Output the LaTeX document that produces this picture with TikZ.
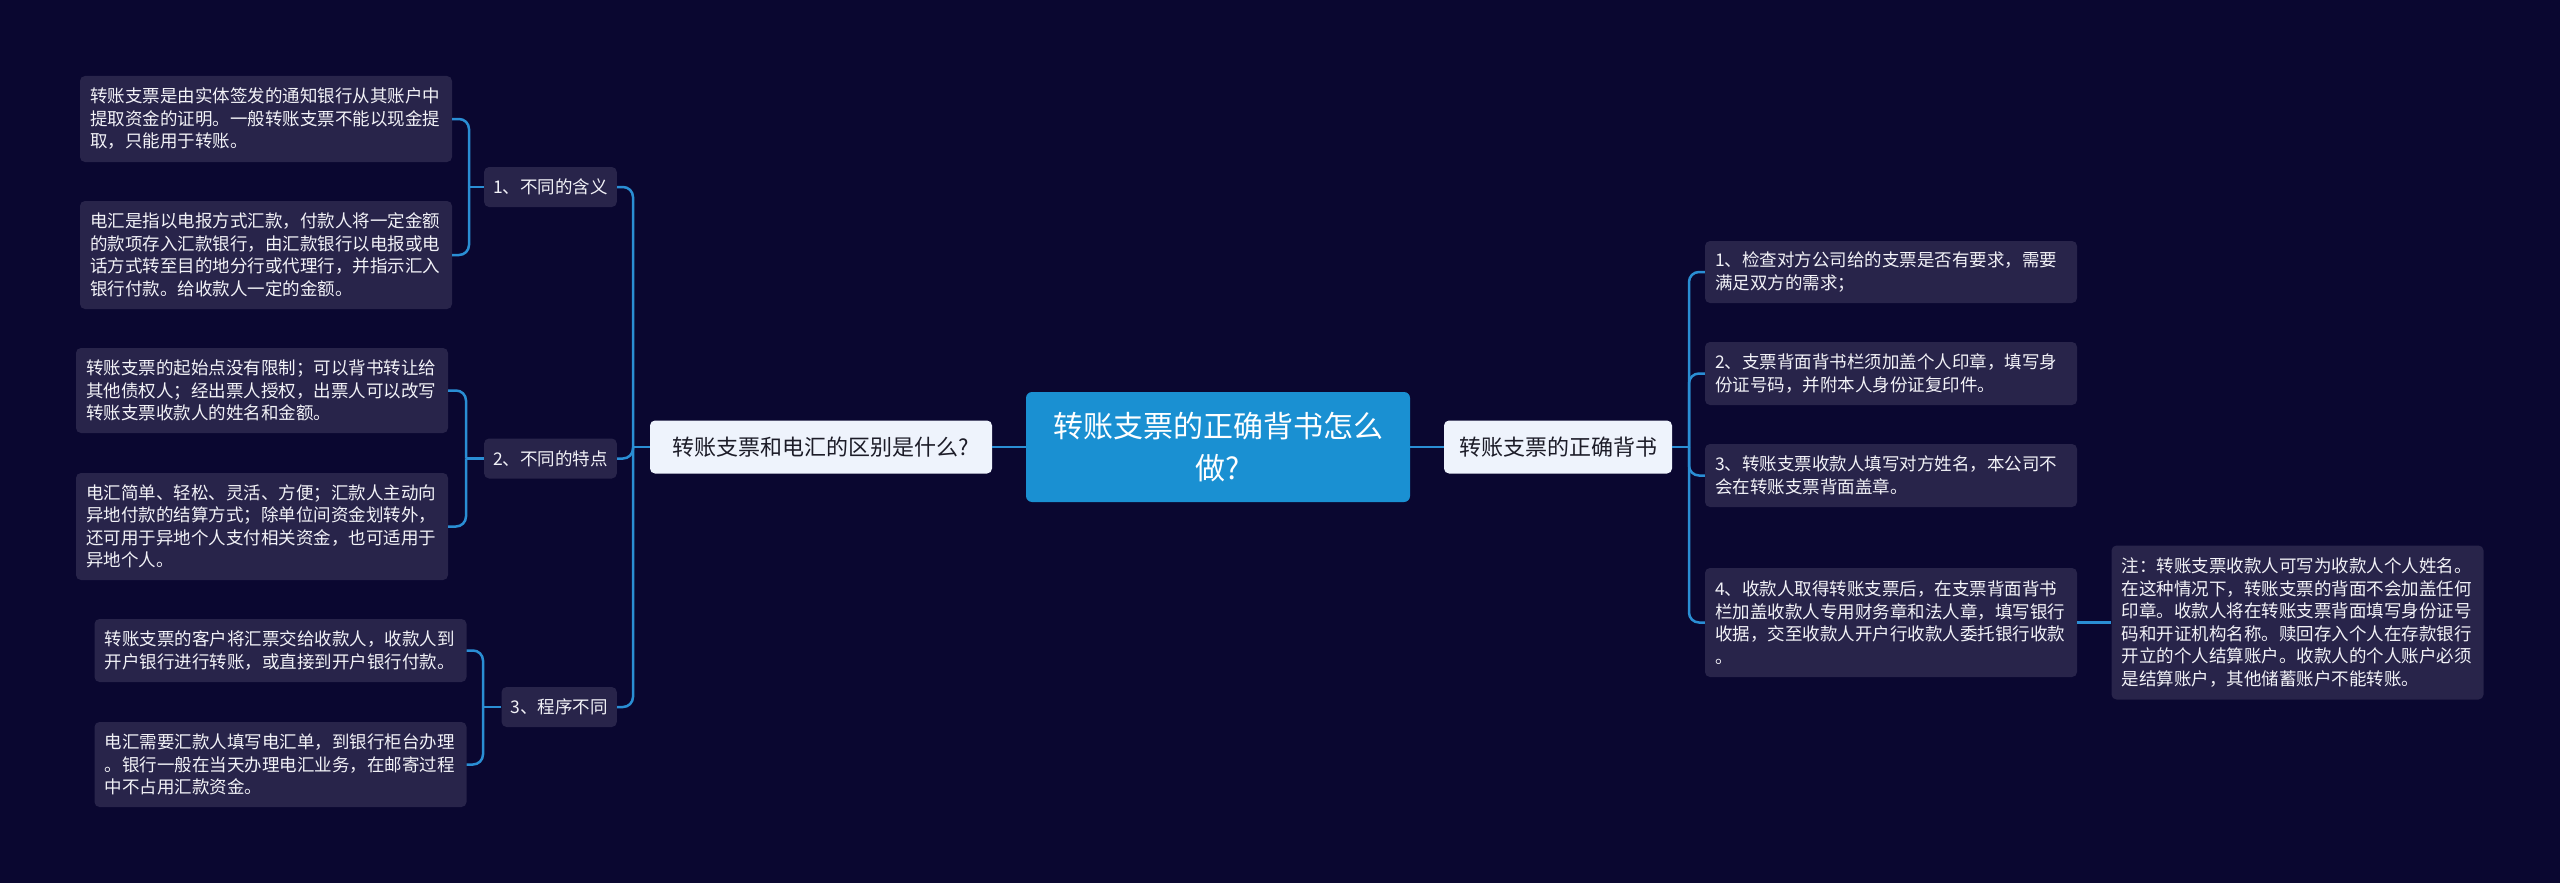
\documentclass[tikz,border=0pt]{standalone}
\usepackage{fontspec}
\newfontfamily\cjk{Noto Sans CJK SC}
\definecolor{bg}{HTML}{0A0730}
\definecolor{leaffill}{HTML}{28244A}
\definecolor{linkblue}{HTML}{2A8ED4}
\definecolor{corefill}{HTML}{1A90D2}
\definecolor{mainfill}{HTML}{EEF3FC}
\definecolor{maintext}{HTML}{1C1C28}
\definecolor{leaftext}{HTML}{F2F2F7}
\begin{document}
\begin{tikzpicture}[x=1pt,y=-1pt,
  leafbox/.style={rounded corners=5pt, fill=leaffill, text=leaftext, align=left,
    text width=352pt, inner xsep=10pt, inner ysep=0pt,
    font={\cjk\fontsize{17.5pt}{22.5pt}\selectfont}},
  midbox/.style={rounded corners=5pt, fill=leaffill, text=leaftext, inner xsep=9pt,
    inner ysep=0pt, minimum height=40pt, anchor=east,
    font={\cjk\fontsize{17.5pt}{20pt}\selectfont}},
  mainbox/.style={rounded corners=5pt, fill=mainfill, text=maintext, inner sep=0pt,
    minimum height=53pt, font={\cjk\fontsize{22pt}{26pt}\selectfont}},
  corebox/.style={rounded corners=6pt, fill=corefill, text=white, inner sep=0pt,
    minimum width=384pt, minimum height=110pt, align=center,
    font={\cjk\fontsize{30pt}{42pt}\selectfont}},
  conn/.style={draw=linkblue, line width=2.5pt},
  connr/.style={conn, rounded corners=10pt}
]
\fill[bg] (0,0) rectangle (2560,883);

% central
\node[corebox] (core) at (1218,447) {转账支票的正确背书怎么\\做?};
\node[mainbox, minimum width=342pt] (lm) at (821,447) {转账支票和电汇的区别是什么?};
\node[mainbox, minimum width=228pt] (rm) at (1558,447) {转账支票的正确背书};

% left level 2
\node[midbox] (a1) at (617,187) {1、不同的含义};
\node[midbox] (a2) at (617,458.5) {2、不同的特点};
\node[midbox] (a3) at (617,707) {3、程序不同};

% left leaves
\node[leafbox, minimum height=86pt] (l1a) at (266,119) {转账支票是由实体签发的通知银行从其账户中\\提取资金的证明。一般转账支票不能以现金提\\取，只能用于转账。};
\node[leafbox, minimum height=108pt] (l1b) at (266,255) {电汇是指以电报方式汇款，付款人将一定金额\\的款项存入汇款银行，由汇款银行以电报或电\\话方式转至目的地分行或代理行，并指示汇入\\银行付款。给收款人一定的金额。};
\node[leafbox, minimum height=85pt] (l2a) at (262,390.5) {转账支票的起始点没有限制；可以背书转让给\\其他债权人；经出票人授权，出票人可以改写\\转账支票收款人的姓名和金额。};
\node[leafbox, minimum height=107pt] (l2b) at (262,526.5) {电汇简单、轻松、灵活、方便；汇款人主动向\\异地付款的结算方式；除单位间资金划转外，\\还可用于异地个人支付相关资金，也可适用于\\异地个人。};
\node[leafbox, minimum height=63pt] (l3a) at (280.5,650.5) {转账支票的客户将汇票交给收款人，收款人到\\开户银行进行转账，或直接到开户银行付款。};
\node[leafbox, minimum height=85pt] (l3b) at (280.5,764.5) {电汇需要汇款人填写电汇单，到银行柜台办理\\。银行一般在当天办理电汇业务，在邮寄过程\\中不占用汇款资金。};

% right leaves
\node[leafbox, minimum height=62pt] (r1) at (1891,272) {1、检查对方公司给的支票是否有要求，需要\\满足双方的需求；};
\node[leafbox, minimum height=63pt] (r2) at (1891,373.5) {2、支票背面背书栏须加盖个人印章，填写身\\份证号码，并附本人身份证复印件。};
\node[leafbox, minimum height=63pt] (r3) at (1891,475.5) {3、转账支票收款人填写对方姓名，本公司不\\会在转账支票背面盖章。};
\node[leafbox, minimum height=109pt] (r4) at (1891,622.5) {4、收款人取得转账支票后，在支票背面背书\\栏加盖收款人专用财务章和法人章，填写银行\\收据，交至收款人开户行收款人委托银行收款\\。};
\node[leafbox, minimum height=154pt] (note) at (2297.5,622.5) {注：转账支票收款人可写为收款人个人姓名。\\在这种情况下，转账支票的背面不会加盖任何\\印章。收款人将在转账支票背面填写身份证号\\码和开证机构名称。赎回存入个人在存款银行\\开立的个人结算账户。收款人的个人账户必须\\是结算账户，其他储蓄账户不能转账。};

% junction coordinates
\coordinate (jl) at (633,447);
\coordinate (j1) at (469,187);
\coordinate (j2) at (466,458.5);
\coordinate (j3) at (483,707);
\coordinate (jr) at (1689,447);

% connectors
\draw[conn] (core.west) -- (lm.east);
\draw[conn] (core.east) -- (rm.west);

\draw[conn] (lm.west) -- (jl);
\foreach \c in {a1,a2,a3} \draw[connr] (jl) |- (\c.east);

\draw[conn] (a1.west) -- (j1);
\foreach \c in {l1a,l1b} \draw[connr] (j1) |- (\c.east);
\draw[conn] (a2.west) -- (j2);
\foreach \c in {l2a,l2b} \draw[connr] (j2) |- (\c.east);
\draw[conn] (a3.west) -- (j3);
\foreach \c in {l3a,l3b} \draw[connr] (j3) |- (\c.east);

\draw[conn] (rm.east) -- (jr);
\foreach \c in {r1,r2,r3,r4} \draw[connr] (jr) |- (\c.west);

\draw[conn] (r4.east) -- (note.west);
\end{tikzpicture}
\end{document}
